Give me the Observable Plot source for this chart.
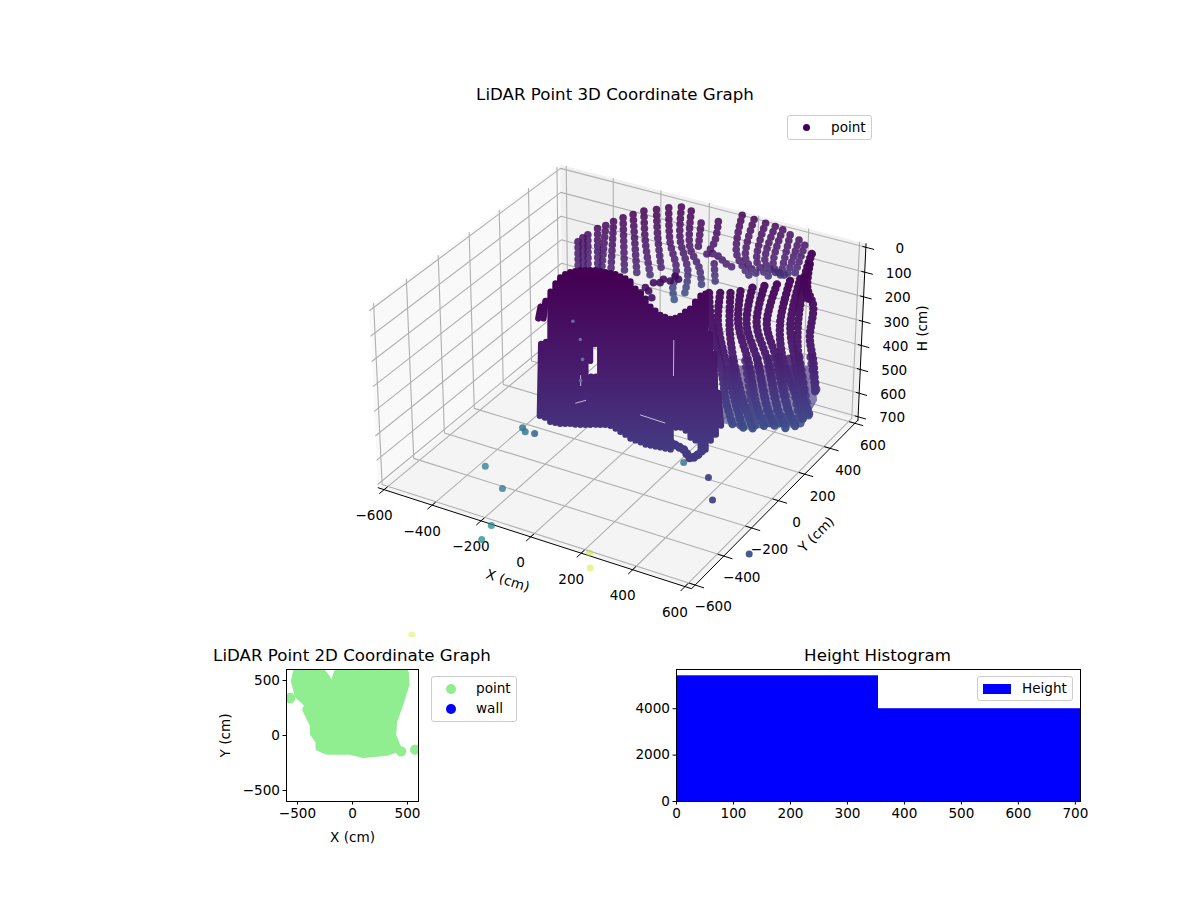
<!DOCTYPE html>
<html><head><meta charset="utf-8">
<script src="https://cdn.jsdelivr.net/npm/d3@7"></script>
<script src="https://cdn.jsdelivr.net/npm/@observablehq/plot@0.6"></script>
<style>
body{margin:0;background:#fff;font-family:"DejaVu Sans",sans-serif;color:#000}
#page{position:relative;width:1200px;height:900px;overflow:hidden}
#page>*{position:absolute}
.title{font-size:16.67px;white-space:nowrap;transform:translateX(-50%)}
.legend{border:1px solid #ccc;border-radius:3px;background:rgba(255,255,255,.8);box-sizing:border-box;font-size:13.6px}
.legend div{position:absolute;white-space:nowrap}
</style></head><body><div id="page"></div>
<script>
// ---------- data (cm) ----------
const xTicks=[-600,-400,-200,0,200,400,600];
const yTicks=[-600,-400,-200,0,200,400,600];
const hTicks=[0,100,200,300,400,500,600,700];
const xLimits=[-625,625], yLimits=[-625,625], hLimits=[-14.6,714.6];

// far wall scan columns: [X,Y,H] waypoints
const farWall=[
[[-492,524,227],[-492,524,397]],
[[-476,533,210],[-476,533,397]],
[[-460,542,197],[-460,542,354]],
[[-429,560,171],[-429,560,346]],
[[-403,575,159],[-419,566,375]],
[[-378,589,142],[-388,584,375]],
[[-348,607,127],[-343,609,354]],
[[-316,625,113],[-309,629,255],[-303,632,368]],
[[-282,645,99],[-277,648,227],[-261,657,368]],
[[-242,668,92],[-238,670,198],[-224,678,354]],
[[-203,690,85],[-198,693,227],[-177,705,340],[-188,699,425],[-182,702,475]],
[[-163,713,82],[-166,711,212],[-140,727,354],[-151,721,453]],
[[-132,732,99],[-135,730,248],[-103,748,340],[-95,753,425]],
[[-100,750,149],[-109,745,262]],
[[-45,781,142],[-56,775,227],[-87,757,290]],
[[-56,775,319],[-51,778,411]],
[[-61,772,276],[-40,784,290],[-19,797,319],[2,809,333]],
[[30,825,116],[15,816,276],[65,845,382]],
[[68,847,134],[44,833,297],[86,857,368]],
[[105,868,149],[81,854,312],[128,882,382]],
[[136,886,163],[107,870,319],[160,900,368]],
[[160,900,177],[134,885,333],[171,906,368]],
[[184,914,198],[160,900,354]],
[[213,930,219],[181,912,361]],
[[232,941,241],[202,924,368]]
];
// dense lower band of the right wall (outline)
const rightBand=[[303,175,350],[576,333,350],[594,343,493],[561,324,574],[519,299,607],[470,271,599],[388,224,615],[306,177,587],[303,175,350]];
// lower lattice of the right wall, between the main columns
const rightLattice=[
[[333,192,330],[363,209,602]],[[373,215,330],[409,235,608]],[[409,235,323],[454,262,608]],[[444,256,323],[484,279,608]],
[[474,273,316],[515,297,602]],[[505,291,323],[545,314,588]],[[535,308,316],[570,329,561]],[[570,329,316],[590,340,452]]
];
// right wall scan columns
const rightWall=[
[[470,513,16],[450,502,125],[465,510,200]],
[[465,510,57],[460,507,152],[480,519,227],[473,515,356],[488,523,465],[496,528,588]],
[[450,502,112],[435,493,302],[440,496,438],[465,510,601]],
[[530,306,3],[505,291,180],[520,300,316],[550,317,479],[575,332,561]],
[[500,288,10],[474,273,180],[489,282,343],[530,306,479],[555,320,581]],
[[461,266,24],[434,250,180],[464,268,316],[500,288,506],[530,306,602]],
[[424,244,30],[403,233,180],[439,253,330],[469,271,506],[500,288,608]],
[[388,224,37],[373,215,180],[409,235,330],[439,253,506],[469,271,608]],
[[353,203,51],[348,201,180],[383,221,343],[409,235,506],[439,253,615]],
[[323,186,58],[323,186,207],[343,198,370],[378,218,534],[403,233,622]],
[[292,169,58],[287,166,180],[318,183,357],[348,201,520],[373,215,615]],
[[259,149,58],[267,154,180],[297,171,343],[318,183,506],[338,195,595]]
];
// near mass: [topX,topY,topH,baseX,baseY,baseH]
const nearMass=[
[-319,-23,191,-179,-265,81],[-319,-23,342,-179,-265,472],[-304,-14,167,-164,-256,81],[-304,-14,334,-164,-256,480],
[-288,-5,130,-148,-247,497],[-273,4,97,-133,-238,501],[-258,12,73,-118,-230,505],[-243,21,60,-103,-221,505],
[-228,30,52,-88,-212,505],[-213,39,48,-73,-203,509],[-197,47,44,-57,-195,509],[-182,56,44,-42,-186,509],
[-167,65,44,-27,-177,250],[-167,65,478,-27,-177,509],[-152,74,44,-12,-168,183],[-152,74,478,-12,-168,509],
[-137,82,48,3,-160,509],[-122,91,52,18,-151,509],
[-106,100,56,34,-142,513],[-91,109,60,49,-133,525],[-76,117,69,64,-125,538],[-61,126,77,79,-116,550],
[-46,135,89,94,-107,566],[-31,144,118,109,-98,574],[-15,153,138,125,-89,582],[0,161,158,140,-81,591],
[15,170,191,155,-72,595],[30,179,207,170,-63,599],[45,188,224,185,-54,603],[60,196,232,200,-46,607],
[76,205,240,216,-37,611],[91,214,236,231,-28,521],[106,223,228,246,-19,521],[121,231,211,261,-11,533],
[136,240,199,276,-2,562],[151,249,171,291,7,574],[167,258,146,307,16,603],[182,266,138,322,24,611],
[197,275,301,337,33,574],[212,284,383,352,42,550],[227,293,546,367,51,513]
];
const lowerLobe=[[216,-37,582],[237,-25,598],[255,-14,611],[270,-5,639],[276,-2,650],[294,9,640],[316,21,610]];
const upperClump=[[-50,213,173],[-15,233,193],[-35,222,152],[-10,236,132],[20,254,118],[56,274,105],[66,280,118],[41,265,125],[-25,228,166],[10,248,132]];
// thin openings through the near mass and paler points seen through it
const massSlits=[[[155,89,248],[155,89,391]],[[55,32,554],[130,75,587]],[[-143,-82,505],[-112,-65,493]],[[-127,-74,391],[-127,-74,432]]];
const paleX=[-149,-127,-121,-127], paleY=[-86,-74,-70,-74], paleH=[171,244,325,411];
// isolated returns
const strayX=[230,353,435,703,-388,-365,-329,-364,-234,-142,-124,235,283,-19];
const strayY=[34,-9,-130,-365,-48,-67,-61,-337,-431,-650,-740,-629,-706,-1327];
const strayH=[700,700,700,700,700,700,700,700,700,700,700,700,700,700];
const strayShade=[.36,.2,.2,.25,.38,.38,.3,.42,.38,.47,.47,.9,.93,.95];
const strayAlpha=[.8,.95,.95,.95,.8,.8,.85,.75,.75,.75,.75,.45,.45,.4];

// 2D footprint outline (clipped by the axes)
const footX=[-542,-506,-421,-439,-370,-370,-318,-318,-233,-21,100,312,403,425,379,388,448,500,494,464,-127,-173,-158,-218,-279,-339,-506,-542];
const footY=[494,356,279,233,95,18,-58,-120,-157,-157,-187,-166,-135,-110,3,126,295,464,571,648,648,510,341,525,602,648,648,494];
const footStrayX=[-567,570,442];
const footStrayY=[341,-129,-144];

// height histogram
const binStart=[0,354.5], binEnd=[354.5,709], binCount=[5420,4000];

// ---------- 3D projection (elev 30, azim -60) ----------
const box=[1.1905,1.1905,0.688], deg=Math.PI/180;
const w=[Math.cos(30*deg)*Math.cos(-60*deg),Math.cos(30*deg)*Math.sin(-60*deg),Math.sin(30*deg)];
const un=[-w[1],w[0],0], ul=Math.hypot(...un), uu=un.map(d=>d/ul);
const vv=[w[1]*uu[2]-w[2]*uu[1],w[2]*uu[0]-w[0]*uu[2],w[0]*uu[1]-w[1]*uu[0]];
const eye=box.map((b,i)=>b/2+10*w[i]);
const dot3=(a,b)=>a[0]*b[0]+a[1]*b[1]+a[2]*b[2];
function proj(X,Y,H){
  const p=[(X-xLimits[0])/(xLimits[1]-xLimits[0])*box[0],(Y-yLimits[0])/(yLimits[1]-yLimits[0])*box[1],(hLimits[1]-H)/(hLimits[1]-hLimits[0])*box[2]];
  const d=p.map((v,i)=>v-eye[i]), z=-dot3(w,d);
  return {u:dot3(uu,d)/z,v:dot3(vv,d)/z};
}
const row=(id,pts)=>pts.map(p=>({id,...proj(p[0],p[1],p[2])}));
const rows=list=>list.flatMap((c,i)=>row(i,c));

const [x0,x1]=xLimits,[y0,y1]=yLimits,[h0,h1]=hLimits;
const panes=[
 [[x0,y0,h1],[x0,y1,h1],[x0,y1,h0],[x0,y0,h0],[x0,y0,h1]],
 [[x0,y1,h1],[x1,y1,h1],[x1,y1,h0],[x0,y1,h0],[x0,y1,h1]],
 [[x0,y0,h1],[x1,y0,h1],[x1,y1,h1],[x0,y1,h1],[x0,y0,h1]]
];
const paneFill=["#f9f9f9","#f0f0f0","#f4f4f4"];
const grid=[
 ...xTicks.map(t=>[[t,y0,h1],[t,y1,h1],[t,y1,h0]]),
 ...yTicks.map(t=>[[x1,t,h1],[x0,t,h1],[x0,t,h0]]),
 ...hTicks.map(t=>[[x0,y0,t],[x0,y1,t],[x1,y1,t]])
];
const axes3=[[[x0,y0,h1],[x1,y0,h1],[x1,y1,h1]],[[x1,y1,h1],[x1,y1,h0]]];
const ticks3=[
 ...xTicks.map(t=>[[t,y0+20,h1],[t,y0-28,h1]]),
 ...yTicks.map(t=>[[x1-22,t,h1],[x1+32,t,h1]]),
 ...hTicks.map(t=>[[x1-12,y1,t],[x1+30,y1,t]])
];
const fmt=d=>String(d).replace("-","\u2212");
const xLab=xTicks.map(t=>({t:fmt(t),...proj(t,y0,h1)}));
const yLab=yTicks.map(t=>({t:fmt(t),...proj(x1,t,h1)}));
const hLab=hTicks.map(t=>({t:fmt(t),...proj(x1,y1,t)}));

// gradient defined along H at an anchor column
function gradient(id,ax,ay,hs,shades){
  return (index,{y})=>{
    const y1=y(proj(ax,ay,hs[0]).v), y2=y(proj(ax,ay,hs[hs.length-1]).v);
    const g=d3.create("svg:g"), lg=g.append("defs").append("linearGradient")
      .attr("id",id).attr("gradientUnits","userSpaceOnUse").attr("x1",0).attr("x2",0).attr("y1",y1).attr("y2",y2);
    hs.forEach((h,i)=>lg.append("stop").attr("offset",(h-hs[0])/(hs[hs.length-1]-hs[0])).attr("stop-color",d3.interpolateViridis(shades[i])));
    return g.node();
  };
}
const FS=13.6;
const T=(data,opt)=>Plot.text(data,{x:"u",y:"v",text:"t",fontSize:FS,fill:"#000",...opt});
const S=3000, cx=622, cy=365, W3=1200, H3=637;

const top3=Plot.plot({
  width:W3,height:H3,margin:0,
  style:{background:"transparent",fontFamily:"DejaVu Sans"},
  x:{domain:[-cx/S,(W3-cx)/S],axis:null},
  y:{domain:[(cy-H3)/S,cy/S],axis:null},
  color:{type:"linear",domain:[0,1],scheme:"viridis"},
  marks:[
    gradient("farG",-100,700,[80,300,480],[.0,.08,.3]),
    gradient("rightG",0,0,[0,300,500,650],[.01,.07,.17,.25]),
    gradient("massG",0,0,[0,350,700],[0,.07,.17]),
    ...panes.map((p,i)=>Plot.line(row(i,p),{x:"u",y:"v",fill:paneFill[i],stroke:"none"})),
    Plot.line(rows(grid),{x:"u",y:"v",z:"id",stroke:"#b0b0b0",strokeWidth:1.1}),
    Plot.line(rows(axes3),{x:"u",y:"v",z:"id",stroke:"#000",strokeWidth:1}),
    Plot.line(rows(ticks3),{x:"u",y:"v",z:"id",stroke:"#000",strokeWidth:1}),
    T(xLab,{dx:-10,dy:26}),
    T(yLab,{dx:18,dy:22}),
    T(hLab,{dx:34,dy:1}),
    T([{t:"X (cm)",...proj(0,y0,h1)}],{dx:-23,dy:44,rotate:18}),
    T([{t:"Y (cm)",...proj(x1,0,h1)}],{dx:38,dy:34,rotate:-45}),
    T([{t:"H (cm)",...proj(x1,y1,350)}],{dx:61,dy:-5,rotate:-90}),
    Plot.dot(strayX.map((X,i)=>({...proj(X,strayY[i],strayH[i]),s:strayShade[i],a:strayAlpha[i]})),{x:"u",y:"v",r:3.5,fill:"s",fillOpacity:"a"}),
    Plot.line(rows(farWall),{x:"u",y:"v",z:"id",stroke:"url(#farG)",strokeWidth:7.6,strokeOpacity:.85,strokeLinecap:"round",strokeLinejoin:"round",strokeDasharray:"0 5.8",curve:"catmull-rom"}),
    Plot.line(row(0,rightBand),{x:"u",y:"v",fill:"url(#rightG)",fillOpacity:.62,stroke:"none"}),
    Plot.line(rows(rightLattice),{x:"u",y:"v",z:"id",stroke:"url(#rightG)",strokeWidth:9,strokeOpacity:.88,strokeLinecap:"round",strokeDasharray:"0 6.5"}),
    Plot.line(rows(rightWall),{x:"u",y:"v",z:"id",stroke:"url(#rightG)",strokeWidth:8.4,strokeOpacity:.96,strokeLinecap:"round",strokeLinejoin:"round",strokeDasharray:"0 4.6",curve:"catmull-rom"}),
    Plot.dot(upperClump.map(p=>proj(...p)),{x:"u",y:"v",r:3.8,fill:"#3e0e5e",fillOpacity:.9}),
    Plot.line(nearMass.flatMap((m,i)=>row(i,[m.slice(0,3),m.slice(3)])),{x:"u",y:"v",z:"id",stroke:"url(#massG)",strokeWidth:6.4,strokeLinecap:"round"}),
    Plot.line(row(0,lowerLobe),{x:"u",y:"v",stroke:"url(#massG)",strokeWidth:9,strokeLinecap:"round",strokeLinejoin:"round",strokeDasharray:"0 5"}),
    Plot.line(rows(massSlits),{x:"u",y:"v",z:"id",stroke:"#fff",strokeWidth:.8,strokeOpacity:.85}),
    Plot.dot(paleX.map((X,i)=>proj(X,paleY[i],paleH[i])),{x:"u",y:"v",r:1.8,fill:"#6b6ba8"})
  ]
});

const tickFmt=d=>fmt(d);
const plot2=Plot.plot({
  width:240,height:215,marginLeft:86,marginRight:22,marginTop:29,marginBottom:54,
  style:{background:"transparent",fontFamily:"DejaVu Sans",fontSize:FS+"px",color:"#000"},
  x:{domain:[-600,600]},y:{domain:[-600,600]},
  marks:[
    Plot.line(footX.map((X,i)=>({X,Y:footY[i]})),{x:"X",y:"Y",fill:"#90ee90",stroke:"#90ee90",strokeWidth:4,strokeLinejoin:"round",clip:true}),
    Plot.dot(footStrayX.map((X,i)=>({X,Y:footStrayY[i]})),{x:"X",y:"Y",r:5.2,fill:"#90ee90",clip:true}),
    Plot.frame({stroke:"#000",strokeWidth:1}),
    Plot.axisX({ticks:[-500,0,500],tickFormat:tickFmt,tickSize:3.5,tickPadding:3,label:"X (cm)",labelArrow:"none",labelAnchor:"center",labelOffset:40,fontSize:FS}),
    Plot.axisY({ticks:[-500,0,500],tickFormat:tickFmt,tickSize:3.5,tickPadding:3,label:"Y (cm)",labelArrow:"none",labelAnchor:"center",labelOffset:66,fontSize:FS})
  ]
});

const plot3=Plot.plot({
  width:520,height:215,marginLeft:56,marginRight:60,marginTop:29,marginBottom:54,
  style:{background:"transparent",fontFamily:"DejaVu Sans",fontSize:FS+"px",color:"#000"},
  x:{domain:[0,709]},y:{domain:[0,5691]},
  marks:[
    Plot.rectY(binCount.map((c,i)=>({a:binStart[i],b:binEnd[i],c})),{x1:"a",x2:"b",y:"c",fill:"#0000ff",inset:0}),
    Plot.frame({stroke:"#000",strokeWidth:1}),
    Plot.axisX({ticks:[0,100,200,300,400,500,600,700],tickFormat:d=>String(d),tickSize:3.5,tickPadding:3,label:null,fontSize:FS}),
    Plot.axisY({ticks:[0,2000,4000],tickFormat:d=>String(d),tickSize:3.5,tickPadding:3,label:null,fontSize:FS})
  ]
});

const page=document.getElementById("page");
function place(el,l,t){el.style.left=l+"px";el.style.top=t+"px";page.appendChild(el);return el;}
place(top3,0,0);
place(plot2,200,640);
place(plot3,620,640);
function title(txt,cxp,t){const d=document.createElement("div");d.className="title";d.textContent=txt;place(d,cxp,t);}
title("LiDAR Point 3D Coordinate Graph",615,85);
title("LiDAR Point 2D Coordinate Graph",352,646);
title("Height Histogram",877.5,646);
function legend(l,t,w,h,items){
  const b=document.createElement("div");b.className="legend";b.style.width=w+"px";b.style.height=h+"px";
  items.forEach(i=>{const m=document.createElement("div");m.style.cssText=i.mark;b.appendChild(m);
    const s=document.createElement("div");s.textContent=i.label;s.style.left=i.tx+"px";s.style.top=i.ty+"px";b.appendChild(s);});
  place(b,l,t);
}
legend(787,115,85,25,[{label:"point",tx:43,ty:3,mark:"left:15px;top:8px;width:7px;height:7px;border-radius:50%;background:#440154"}]);
legend(431,676,86,46,[
 {label:"point",tx:44,ty:3,mark:"left:14px;top:7px;width:10px;height:10px;border-radius:50%;background:#90ee90"},
 {label:"wall",tx:44,ty:23,mark:"left:14px;top:27px;width:10px;height:10px;border-radius:50%;background:#0000ff"}]);
legend(977,676,96,25,[{label:"Height",tx:44,ty:3,mark:"left:5px;top:7px;width:28px;height:10px;background:#0000ff"}]);
</script></body></html>
